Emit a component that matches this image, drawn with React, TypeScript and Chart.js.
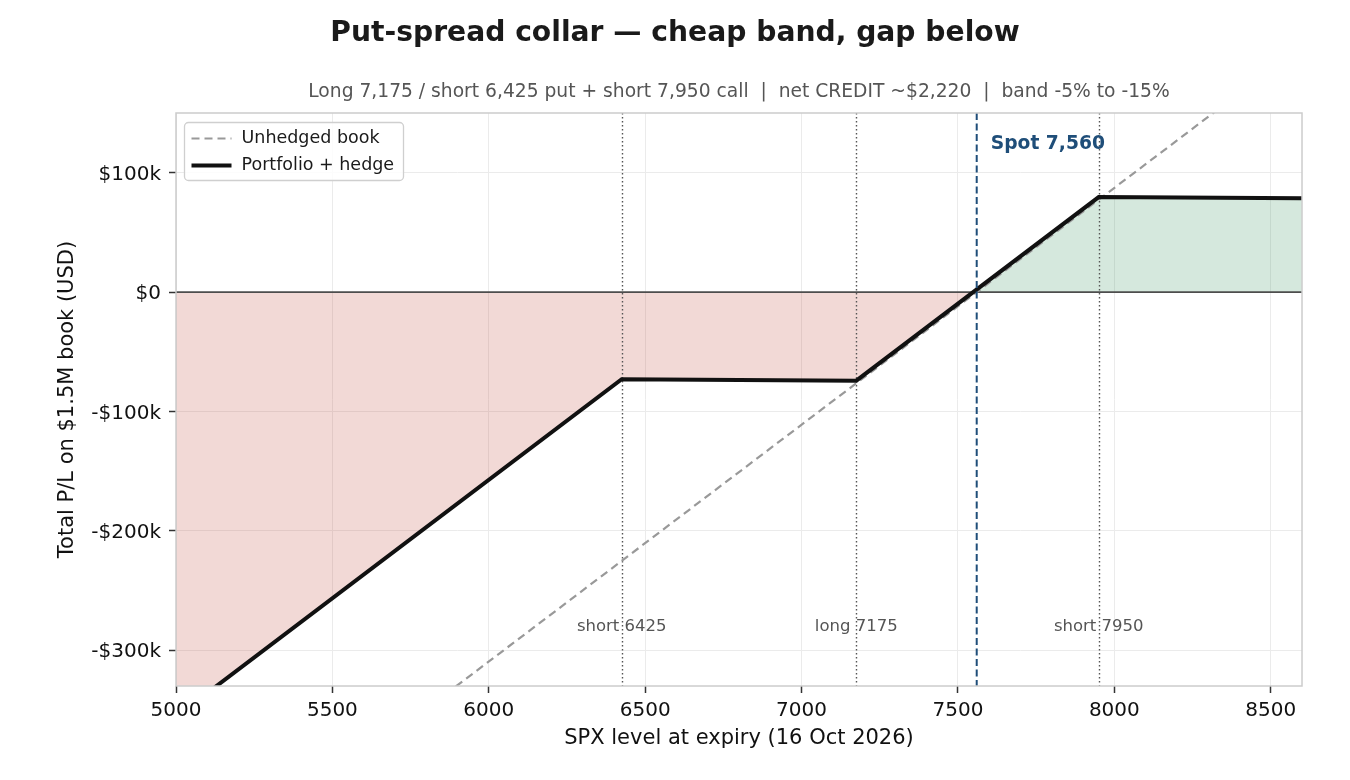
import React, { useEffect, useRef } from "react";
import { Chart, registerables } from "chart.js";

Chart.register(...registerables);

// ---- data ----
const xKnots = [5000, 6425, 7175, 7950, 8600];
const hedgedPL = [-355700, -73000, -74200, 79600, 78500];
const unhedgedX = [5000, 8600];
const unhedgedPL = [-507900, 206300];
const strikes = [6425, 7175, 7950];
const strikeLabels = ["short 6425", "long 7175", "short 7950"];
const spot = 7560;
const spotLabel = "Spot 7,560";
const xTicks = [5000, 5500, 6000, 6500, 7000, 7500, 8000, 8500];
const yTicks = [-300000, -200000, -100000, 0, 100000];
const xRange = [5000, 8600];
const yRange = [-330000, 150000];

const titleText = "Put-spread collar — cheap band, gap below";
const subtitleText =
  "Long 7,175 / short 6,425 put + short 7,950 call  |  net CREDIT ~$2,220  |  band -5% to -15%";
const xTitle = "SPX level at expiry (16 Oct 2026)";
const yTitle = "Total P/L on $1.5M book (USD)";
const legendLabels = ["Unhedged book", "Portfolio + hedge"];

const FONT = '"DejaVu Sans", "Liberation Sans", sans-serif';

function fmtK(v: number): string {
  if (v === 0) return "$0";
  const k = Math.round(Math.abs(v) / 1000);
  return (v < 0 ? "-" : "") + "$" + k + "k";
}

const overlay = {
  id: "overlay",
  beforeDatasetsDraw(chart: any) {
    const { ctx, chartArea: a, scales } = chart;
    const x = scales.x;
    const y = scales.y;
    ctx.save();
    ctx.beginPath();
    ctx.rect(a.left, a.top, a.right - a.left, a.bottom - a.top);
    ctx.clip();
    // zero line
    const y0 = y.getPixelForValue(0);
    ctx.strokeStyle = "#4d4d4d";
    ctx.lineWidth = 1.8;
    ctx.beginPath();
    ctx.moveTo(a.left, y0);
    ctx.lineTo(a.right, y0);
    ctx.stroke();
    // strike lines
    ctx.strokeStyle = "#555555";
    ctx.lineWidth = 1.4;
    ctx.setLineDash([1.5, 2.5]);
    strikes.forEach((s) => {
      const px = Math.round(x.getPixelForValue(s)) + 0.5;
      ctx.beginPath();
      ctx.moveTo(px, a.top);
      ctx.lineTo(px, a.bottom);
      ctx.stroke();
    });
    ctx.restore();
  },
  afterDatasetsDraw(chart: any) {
    const { ctx, chartArea: a, scales } = chart;
    const x = scales.x;
    const y = scales.y;
    ctx.save();
    // spot line
    const sx = x.getPixelForValue(spot);
    ctx.strokeStyle = "#1f4e79";
    ctx.lineWidth = 2;
    ctx.setLineDash([7, 3.5]);
    ctx.beginPath();
    ctx.moveTo(sx, a.top);
    ctx.lineTo(sx, a.bottom);
    ctx.stroke();
    ctx.setLineDash([]);

    // strike labels
    ctx.fillStyle = "#555555";
    ctx.font = `16.5px ${FONT}`;
    ctx.textAlign = "center";
    ctx.textBaseline = "middle";
    strikes.forEach((s, i) => {
      ctx.fillText(strikeLabels[i], x.getPixelForValue(s), y.getPixelForValue(-280000));
    });

    // spot label
    ctx.fillStyle = "#1f4e79";
    ctx.font = `bold 18.7px ${FONT}`;
    ctx.textAlign = "left";
    ctx.fillText(spotLabel, sx + 14, y.getPixelForValue(123500));

    // frame
    ctx.strokeStyle = "#cccccc";
    ctx.lineWidth = 1.5;
    ctx.strokeRect(a.left, a.top, a.right - a.left, a.bottom - a.top);

    // legend
    const lx = a.left + 8.5;
    const ly = a.top + 9.5;
    ctx.beginPath();
    (ctx as any).roundRect(lx, ly, 219, 58, 4);
    ctx.fillStyle = "rgba(255,255,255,0.85)";
    ctx.fill();
    ctx.strokeStyle = "#cfcfcf";
    ctx.lineWidth = 1.3;
    ctx.stroke();
    // row 1
    ctx.strokeStyle = "#999999";
    ctx.lineWidth = 2.2;
    ctx.setLineDash([8, 5]);
    ctx.beginPath();
    ctx.moveTo(lx + 7, ly + 16);
    ctx.lineTo(lx + 47, ly + 16);
    ctx.stroke();
    ctx.setLineDash([]);
    // row 2
    ctx.strokeStyle = "#111111";
    ctx.lineWidth = 4;
    ctx.beginPath();
    ctx.moveTo(lx + 7, ly + 43);
    ctx.lineTo(lx + 47, ly + 43);
    ctx.stroke();
    ctx.fillStyle = "#1a1a1a";
    ctx.font = `17.5px ${FONT}`;
    ctx.textAlign = "left";
    ctx.textBaseline = "middle";
    ctx.fillText(legendLabels[0], lx + 57, ly + 16);
    ctx.fillText(legendLabels[1], lx + 57, ly + 43);

    // titles
    const cx = (a.left + a.right) / 2;
    ctx.textAlign = "center";
    ctx.fillStyle = "#1a1a1a";
    ctx.font = `bold 28.2px ${FONT}`;
    ctx.fillText(titleText, chart.width / 2, 34);
    ctx.fillStyle = "#555555";
    ctx.font = `18.7px ${FONT}`;
    ctx.fillText(subtitleText, cx, 92);
    ctx.fillStyle = "#111111";
    ctx.font = `21px ${FONT}`;
    ctx.fillText(xTitle, cx, 739);
    ctx.save();
    ctx.translate(68, (a.top + a.bottom) / 2);
    ctx.rotate(-Math.PI / 2);
    ctx.fillText(yTitle, 0, 0);
    ctx.restore();
    ctx.restore();
  },
};

export default function App() {
  const ref = useRef<HTMLCanvasElement | null>(null);
  useEffect(() => {
    if (!ref.current) return;
    const chart = new Chart(ref.current, {
      type: "line",
      data: {
        datasets: [
          {
            label: legendLabels[1],
            data: xKnots.map((v, i) => ({ x: v, y: hedgedPL[i] })),
            borderColor: "#111111",
            borderWidth: 4,
            pointRadius: 0,
            tension: 0,
            fill: {
              target: "origin",
              above: "rgba(46,139,87,0.2)",
              below: "rgba(190,65,50,0.2)",
            },
          } as any,
          {
            label: legendLabels[0],
            data: unhedgedX.map((v, i) => ({ x: v, y: unhedgedPL[i] })),
            borderColor: "#999999",
            borderWidth: 2.2,
            borderDash: [8, 5],
            pointRadius: 0,
            fill: false,
          },
        ],
      },
      options: {
        responsive: false,
        animation: false,
        devicePixelRatio: 1,
        layout: { padding: { top: 113, right: 48, left: 0, bottom: 0 } },
        plugins: {
          legend: { display: false },
          title: { display: false },
          tooltip: { enabled: false },
          filler: { drawTime: "beforeDatasetsDraw" } as any,
        },
        scales: {
          x: {
            type: "linear",
            min: xRange[0],
            max: xRange[1],
            afterBuildTicks: (s: any) => {
              s.ticks = xTicks.map((v) => ({ value: v }));
            },
            afterFit: (s: any) => {
              s.height = 94;
            },
            border: { display: false },
            grid: {
              color: "#ebebeb",
              lineWidth: 1,
              drawTicks: true,
              tickLength: 7,
              tickColor: "#333333",
              tickWidth: 1.5,
            } as any,
            ticks: {
              color: "#111111",
              font: { family: FONT, size: 20 },
              padding: 6,
              maxRotation: 0,
              autoSkip: false,
              callback: (v: any) => String(v),
            },
          },
          y: {
            type: "linear",
            min: yRange[0],
            max: yRange[1],
            afterBuildTicks: (s: any) => {
              s.ticks = yTicks.map((v) => ({ value: v }));
            },
            afterFit: (s: any) => {
              s.width = 176;
            },
            border: { display: false },
            grid: {
              color: "#ebebeb",
              lineWidth: 1,
              drawTicks: true,
              tickLength: 7,
              tickColor: "#333333",
              tickWidth: 1.5,
            } as any,
            ticks: {
              color: "#111111",
              font: { family: FONT, size: 20 },
              padding: 8,
              labelOffset: 2,
              autoSkip: false,
              callback: (v: any) => fmtK(Number(v)),
            },
          },
        },
      },
      plugins: [overlay],
    });
    return () => chart.destroy();
  }, []);
  return (
    <div style={{ position: "absolute", left: 0, top: 0, width: 1350, height: 780, background: "#fff" }}>
      <canvas ref={ref} width={1350} height={780} style={{ display: "block" }} />
    </div>
  );
}
